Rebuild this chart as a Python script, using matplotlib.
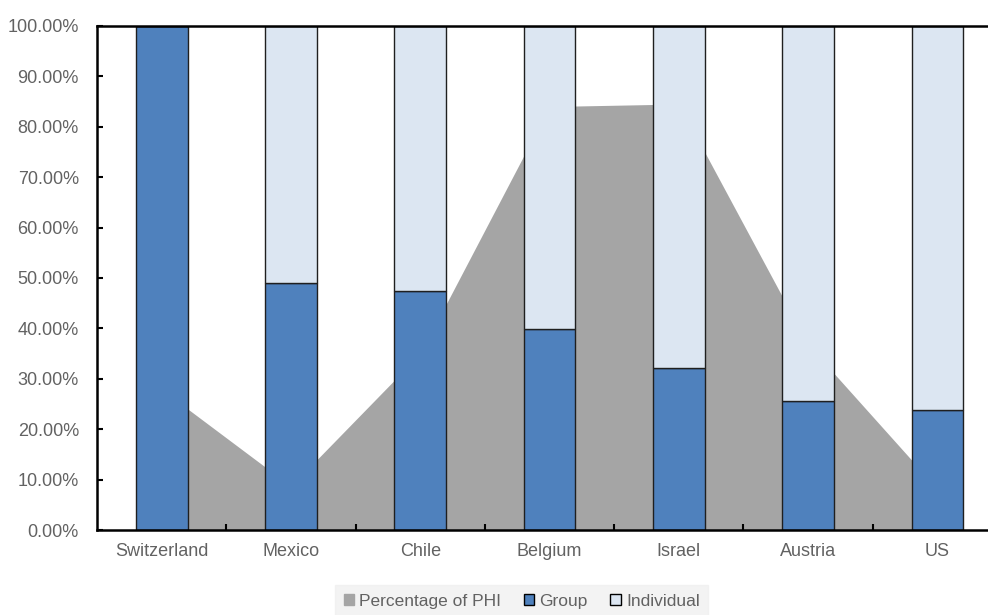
import matplotlib
matplotlib.use("Agg")
import matplotlib.pyplot as plt
import numpy as np
from matplotlib.patches import Patch
from matplotlib.ticker import FixedLocator, PercentFormatter

plt.rcParams['font.family'] = ['Liberation Sans Narrow', 'Liberation Sans', 'DejaVu Sans']

countries = ['Switzerland', 'Mexico', 'Chile', 'Belgium', 'Israel', 'Austria', 'US']
group = [100.0, 49.1, 47.5, 39.8, 32.1, 25.7, 23.9]
individual = [100 - g for g in group]
phi = [27.9, 8.7, 35.0, 84.0, 84.5, 36.8, 8.2]

BLUE = '#4F81BD'
LIGHT = '#DCE6F2'
GREY = '#A5A5A5'
TEXT = '#626262'

fig = plt.figure(figsize=(9.88, 6.15), dpi=100)
ax = fig.add_axes([0.0982, 0.138, 0.916, 0.82])

x = np.arange(len(countries))
# PHI share drawn as an area behind the stacked bars
ax.fill_between(x, 0, phi, color=GREY, linewidth=0, zorder=1)
ax.bar(x, group, width=0.4, color=BLUE, edgecolor='#1f1f1f', linewidth=1, zorder=2)
ax.bar(x, individual, width=0.4, bottom=group, color=LIGHT, edgecolor='#1f1f1f',
       linewidth=1, zorder=2)

ax.set_xlim(-0.5, len(countries) - 0.5)
ax.set_ylim(0, 100)
ax.yaxis.set_major_locator(FixedLocator(np.arange(0, 101, 10)))
ax.yaxis.set_major_formatter(PercentFormatter(decimals=2))
ax.set_xticks(x)
ax.set_xticklabels(countries)
ax.xaxis.set_minor_locator(FixedLocator(x[:-1] + 0.5))

ax.tick_params(axis='y', direction='in', length=4, width=1.5, labelsize=13,
               labelcolor=TEXT, pad=13)
ax.tick_params(axis='x', which='major', length=0, labelsize=13, labelcolor=TEXT, pad=9)
ax.tick_params(axis='x', which='minor', direction='in', length=4, width=1.5)

for side in ['left', 'top', 'bottom']:
  ax.spines[side].set_linewidth(1.8)
  ax.spines[side].set_color('black')
ax.spines['right'].set_visible(False)

handles = [Patch(facecolor=GREY, edgecolor=GREY),
           Patch(facecolor=BLUE, edgecolor='black'),
           Patch(facecolor=LIGHT, edgecolor='black')]
leg = fig.legend(handles, ['Percentage of PHI', 'Group', 'Individual'], ncol=3,
                 loc='center', bbox_to_anchor=(0.528, 0.022), frameon=True, fancybox=False,
                 fontsize=12.5, handlelength=0.6, handleheight=0.6, handletextpad=0.3,
                 columnspacing=1.3, borderpad=0.5, labelcolor=TEXT)
leg.get_frame().set_facecolor('#F0F0F0')
leg.get_frame().set_edgecolor('#F0F0F0')

fig.savefig('out.png', dpi=100)
